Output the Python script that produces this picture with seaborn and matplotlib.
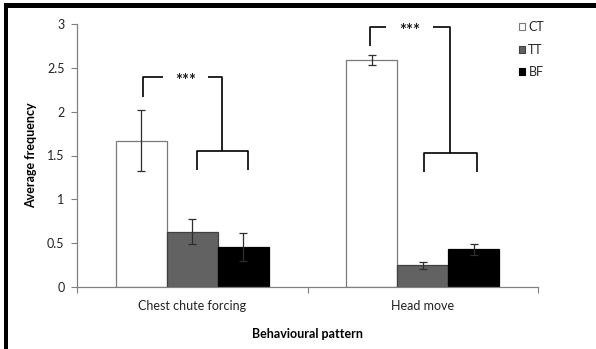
import matplotlib
matplotlib.use("Agg")
import matplotlib.pyplot as plt
from matplotlib.patches import Patch, Rectangle
import numpy as np
import pandas as pd
import seaborn as sns

# Mean frequency of each behaviour per group, with standard errors
behaviours = ["Chest chute forcing", "Head move"]
groups = ["CT", "TT", "BF"]
ct_mean = [1.67, 2.59]
tt_mean = [0.63, 0.25]
bf_mean = [0.46, 0.43]
ct_err = [0.35, 0.06]
tt_err = [0.145, 0.04]
bf_err = [0.16, 0.065]
y_ticks = [0, 0.5, 1, 1.5, 2, 2.5, 3]
y_tick_labels = ["0", "0.5", "1", "1.5", "2", "2.5", "3"]

means = {"CT": ct_mean, "TT": tt_mean, "BF": bf_mean}
errs = {"CT": ct_err, "TT": tt_err, "BF": bf_err}
df = pd.DataFrame(
    [(b, g, means[g][i]) for g in groups for i, b in enumerate(behaviours)],
    columns=["behaviour", "group", "freq"],
)

sns.set_theme(style="white")
plt.rcParams["font.family"] = ["Lato", "DejaVu Sans"]

fills = {"CT": "#ffffff", "TT": "#626262", "BF": "#000000"}
edges = {"CT": "#7a7a7a", "TT": "#404040", "BF": "#000000"}

fig = plt.figure(figsize=(5.96, 3.49), dpi=100)
ax = fig.add_axes([77 / 596, 62 / 349, 461 / 596, 263 / 349])

sns.barplot(
    data=df, x="behaviour", y="freq", hue="group", order=behaviours,
    hue_order=groups, palette=fills, width=0.664, gap=0, errorbar=None,
    legend=False, ax=ax, saturation=1,
)

# outlines and error bars, positioned from the drawn bars
for g, cont in zip(groups, ax.containers):
    xs = []
    for bar in cont:
        bar.set_edgecolor(edges[g])
        bar.set_linewidth(0.9)
        xs.append(bar.get_x() + bar.get_width() / 2)
    ax.errorbar(xs, means[g], yerr=errs[g], fmt="none", ecolor="#2e2e2e",
                elinewidth=0.9, capsize=3, capthick=0.9, zorder=5)

# significance brackets (CT vs TT+BF)
def bracket(cx, left, gap_l, gap_r, right, top, left_low, mid_y, sub_l, sub_r, sub_low):
    kw = dict(color="black", lw=1.2, solid_capstyle="butt", zorder=6)
    ax.plot([cx + left, cx + left, cx + gap_l], [left_low, top, top], **kw)
    ax.plot([cx + gap_r, cx + right, cx + right], [top, top, mid_y], **kw)
    ax.plot([cx + sub_l, cx + sub_l, cx + sub_r, cx + sub_r],
            [sub_low, mid_y, mid_y, sub_low], **kw)
    ax.text(cx + (gap_l + gap_r) / 2, top - 0.04, "***", ha="center", va="center",
            fontsize=12, fontweight="bold", color="#1a1a1a")

bracket(0, -0.213, -0.126, 0.07, 0.13, 2.39, 2.17, 1.55, 0.02, 0.243, 1.33)
bracket(1, -0.23, -0.16, 0.043, 0.117, 2.965, 2.75, 1.53, 0.004, 0.234, 1.31)

ax.set_xlim(-0.5, 1.5)
ax.set_ylim(0, 3)
ax.set_yticks(y_ticks)
ax.set_yticklabels(y_tick_labels)
ax.set_xticks([0, 1])
ax.set_xticklabels(behaviours)
ax.set_xticks([-0.5, 0.5, 1.5], minor=True)
ax.tick_params(axis="x", which="major", length=0, pad=9, labelsize=9,
               labelcolor="#222222")
ax.tick_params(axis="x", which="minor", length=4, width=0.8, color="#808080",
               direction="out", bottom=True)
ax.tick_params(axis="y", length=4, width=0.8, color="#808080", direction="out",
               left=True, pad=5, labelsize=9, labelcolor="#222222")

for s in ["top", "right"]:
    ax.spines[s].set_visible(False)
for s in ["left", "bottom"]:
    ax.spines[s].set_color("#808080")
    ax.spines[s].set_linewidth(0.9)

ax.set_xlabel("Behavioural pattern", fontsize=9, fontweight="bold",
              color="black", labelpad=12)
ax.set_ylabel("Average frequency", fontsize=9, fontweight="bold",
              color="black", labelpad=7)

handles = [Patch(facecolor=fills[g], edgecolor=edges[g], linewidth=0.8) for g in groups]
fig.legend(handles, groups, loc="upper left", bbox_to_anchor=(519 / 596, 1 - 21 / 349),
           frameon=False, fontsize=9, handlelength=0.5, handleheight=0.5,
           handletextpad=0.25, labelspacing=0.85, borderpad=0, borderaxespad=0)

# page frame lines along the top and left edges
fig.add_artist(Rectangle((4 / 596, 0), 4 / 596, 1 - 3 / 349, transform=fig.transFigure,
                         color="black", lw=0))
fig.add_artist(Rectangle((4 / 596, 1 - 8 / 349), 1, 5 / 349, transform=fig.transFigure,
                         color="black", lw=0))

fig.savefig("out.png", dpi=100)
